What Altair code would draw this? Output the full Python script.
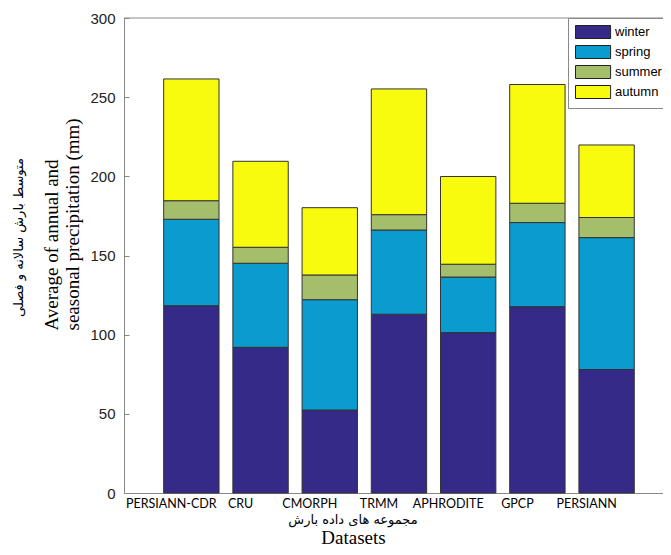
import altair as alt
import pandas as pd

datasets = ["PERSIANN-CDR", "CRU", "CMORPH", "TRMM", "APHRODITE", "GPCP", "PERSIANN"]
seasons = ["winter", "spring", "summer", "autumn"]
winter = [118.3, 92.0, 52.4, 112.9, 101.3, 117.7, 78.0]
spring = [54.6, 53.1, 69.7, 53.2, 35.1, 53.1, 83.3]
summer = [11.7, 10.1, 15.6, 9.7, 8.1, 12.2, 12.7]
autumn = [76.9, 54.3, 42.5, 79.4, 55.4, 75.0, 45.8]
colors = ["#352A87", "#0A9BCF", "#A5BE6B", "#F9FB0E"]

y_title_en = ["Average of annual and", "seasonal precipitation (mm)"]
y_title_fa = "متوسط بارش سالانه و فصلی"
x_title_en = "Datasets"
x_title_fa = "مجموعه های داده بارش"

rows = []
for i, d in enumerate(datasets):
    for j, (s, vals) in enumerate(zip(seasons, [winter, spring, summer, autumn])):
        rows.append({"dataset": d, "season": s, "order": j, "value": vals[i]})
df = pd.DataFrame(rows)

bars = alt.Chart(df).mark_bar(stroke="#333333", strokeWidth=1).encode(
    x=alt.X(
        "dataset:N",
        sort=datasets,
        scale=alt.Scale(paddingInner=0.2, paddingOuter=0.494, align=0.58),
        axis=alt.Axis(
            title=x_title_en,
            titleFont="Liberation Serif",
            titleFontSize=19,
            titleFontWeight="normal",
            titleColor="black",
            titleX=229,
            titleY=50,
            titleBaseline="alphabetic",
            labelFont="Lato",
            labelFontSize=12.5,
            labelColor="black",
            labelAngle=0,
            labelOffset=-20,
            labelPadding=4,
            ticks=False,
            domainColor="#888888",
        ),
    ),
    y=alt.Y(
        "value:Q",
        stack="zero",
        scale=alt.Scale(domain=[0, 300], nice=False),
        axis=alt.Axis(
            title=y_title_en,
            titleFont="Liberation Serif",
            titleFontSize=19,
            titleFontWeight="normal",
            titleColor="black",
            titleAngle=270,
            titleAlign="left",
            titleBaseline="top",
            titleX=-82,
            titleY=312,
            titleLineHeight=21,
            values=[0, 50, 100, 150, 200, 250, 300],
            labelFont="Liberation Sans",
            labelFontSize=15,
            labelColor="#222222",
            labelPadding=9,
            ticks=False,
            grid=False,
            domainColor="#888888",
        ),
    ),
    color=alt.Color(
        "season:N",
        sort=seasons,
        scale=alt.Scale(domain=seasons, range=colors),
        legend=alt.Legend(
            title=None,
            orient="none",
            legendX=444,
            legendY=0,
            fillColor="white",
            strokeColor="#888888",
            padding=7,
            symbolType="M-1,-1H4.4V1H-1Z",
            symbolSize=169,
            symbolStrokeColor="#222222",
            symbolStrokeWidth=1,
            symbolOpacity=1,
            labelFont="Liberation Sans",
            labelFontSize=13,
            labelColor="black",
            labelOffset=26,
            rowPadding=2,
        ),
    ),
    order=alt.Order("order:Q"),
)

top_border = alt.Chart(pd.DataFrame({"top": [300]})).mark_rule(color="#888888", strokeWidth=1).encode(
    y=alt.Y(
        "top:Q",
        scale=alt.Scale(domain=[0, 300], nice=False),
        axis=alt.Axis(
            orient="left",
            offset=-5,
            tickSize=5,
            tickColor="#888888",
            values=[0, 50, 100, 150, 200, 250, 300],
            labels=False,
            domain=False,
            grid=False,
            title=None,
        ),
    )
)

fa_y = alt.Chart(pd.DataFrame({"t": [y_title_fa]})).mark_text(
    angle=270, font="DejaVu Sans", fontSize=13, align="center", baseline="middle", color="black"
).encode(text="t:N", x=alt.value(-105), y=alt.value(219.5))

fa_x = alt.Chart(pd.DataFrame({"t": [x_title_fa]})).mark_text(
    font="DejaVu Sans", fontSize=13, align="center", baseline="middle", color="black"
).encode(text="t:N", x=alt.value(229), y=alt.value(502))

chart = (
    alt.layer(bars, top_border, fa_y, fa_x)
    .resolve_axis(y="independent")
    .properties(
        width=539,
        height=475,
        autosize=alt.AutoSizeParams(type="none"),
        padding={"left": 116, "top": 10, "right": 0, "bottom": 54},
    )
    .configure_view(stroke=None)
)

chart.save("out.html", embed_options={"renderer": "svg", "actions": False})
